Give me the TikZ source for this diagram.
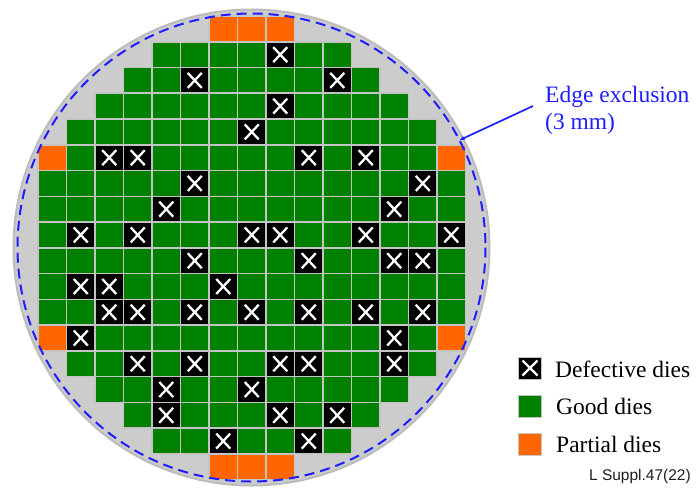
\documentclass[tikz,border=0pt]{standalone}
\usepackage{fontspec}
\setmainfont{Liberation Serif}
\newfontfamily\lsans{Liberation Sans}
\usetikzlibrary{arrows.meta}
\definecolor{wafergray}{RGB}{204,204,204}
\definecolor{waferedge}{RGB}{188,188,188}
\definecolor{gridgray}{RGB}{196,196,196}
\definecolor{diegreen}{RGB}{0,128,0}
\definecolor{dieorange}{RGB}{255,102,0}
\definecolor{edgeblue}{RGB}{30,30,255}
\definecolor{reftext}{RGB}{30,30,30}
\begin{document}
\begin{tikzpicture}[x=1pt,y=-1pt,
  die/.style={minimum width=28.5pt,minimum height=25.76pt,inner sep=0pt,outer sep=0pt,draw=gridgray,line width=1.6pt},
  good/.style={die,fill=diegreen},
  partial/.style={die,fill=dieorange},
  defect/.style={die,fill=black},
  legbox/.style={minimum width=23pt,minimum height=22pt,line width=1pt},
  xmark/.style={white,line width=2.3pt},
  legtext/.style={anchor=base west,inner sep=0pt,font=\fontsize{23.5}{27}\selectfont},
]
\useasboundingbox (0,0) rectangle (697,488);
\coordinate (wc) at (251.5,247.5);
\fill[wafergray, draw=waferedge, line width=2pt] (wc) circle[radius=238];
% good dies
\foreach \r/\a/\b in {1/4/10,2/3/11,3/2/12,4/1/13,5/1/13,6/0/14,7/0/14,8/0/14,9/0/14,10/0/14,11/0/14,12/1/13,13/1/13,14/2/12,15/3/11,16/4/10}
  \foreach \c in {\a,...,\b}
    \node[good] (g-\r-\c) at ({52.25+28.5*\c},{28.88+25.76*\r}) {};
% partial dies
\foreach \r/\c in {0/6,0/7,0/8,5/0,5/14,12/0,12/14,17/6,17/7,17/8}
  \node[partial] (p-\r-\c) at ({52.25+28.5*\c},{28.88+25.76*\r}) {};
% defective dies
\foreach \r/\c in {1/8,2/5,2/10,3/8,4/7,5/2,5/3,5/9,5/11,6/5,6/13,7/4,7/12,
  8/1,8/3,8/7,8/8,8/11,8/14,9/5,9/9,9/12,9/13,10/1,10/2,10/6,
  11/2,11/3,11/5,11/7,11/9,11/11,11/13,12/1,12/12,13/3,13/5,13/8,13/9,13/12,
  14/4,14/7,15/4,15/8,15/10,16/6,16/9}{
  \node[defect] (x-\r-\c) at ({52.25+28.5*\c},{28.88+25.76*\r}) {};
  \draw[xmark] ([shift={(-7,-7.5)}]x-\r-\c.center) -- ([shift={(7,7.5)}]x-\r-\c.center)
               ([shift={(-7,7.5)}]x-\r-\c.center) -- ([shift={(7,-7.5)}]x-\r-\c.center);
}
% edge exclusion
\draw[edgeblue, line width=2pt, dash pattern=on 10pt off 6pt] (wc) circle[radius=234];
\coordinate (ee) at ([shift={(-27.3:234)}]wc);
\node[legtext, text=edgeblue] (edge1) at (545,102) {Edge exclusion};
\node[legtext, text=edgeblue] (edge2) at (545,129) {(3 mm)};
\coordinate (lead) at (533,106);
\draw[edgeblue, line width=1.7pt, -{Latex[length=5pt,width=4.5pt]}] (lead) -- (ee);
% legend
\node[defect, legbox] (legx) at (530,368) {};
\draw[xmark] ([shift={(-7.5,-7.5)}]legx.center) -- ([shift={(7.5,7.5)}]legx.center)
             ([shift={(-7.5,7.5)}]legx.center) -- ([shift={(7.5,-7.5)}]legx.center);
\node[good, legbox] (legg) at (529.5,406) {};
\node[partial, legbox] (legp) at (529.5,444.5) {};
\node[legtext] (tx) at (555,377) {Defective dies};
\node[legtext] (tg) at (556,414) {Good dies};
\node[legtext] (tp) at (556,452) {Partial dies};
\node[anchor=base east, inner sep=0pt, text=reftext, font=\lsans\fontsize{15.5}{18}\selectfont] (ref) at (691,480) {L Suppl.47(22)};
\end{tikzpicture}
\end{document}
